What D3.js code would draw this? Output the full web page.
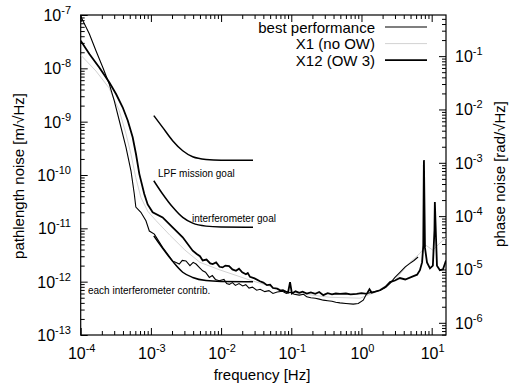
<!DOCTYPE html>
<html><head><meta charset="utf-8">
<script src="https://cdn.jsdelivr.net/npm/d3@7"></script>
<style>
body{margin:0;background:#fff}
svg{display:block}
text{font-family:"Liberation Sans",Arial,Helvetica,sans-serif;fill:#000}
</style>
</head><body>
<svg id="c" width="510" height="388"></svg>
<script>
// ---------- data (frequency in Hz, noise in m/sqrt(Hz)) ----------
const bestFreq = [1e-4,1.33e-4,1.65e-4,2.06e-4,2.55e-4,3.01e-4,3.55e-4,4.42e-4,5.2e-4,5.8e-4,6.1e-4,7.2e-4,8.5e-4,9.5e-4,1.12e-3,1.47e-3,2.04e-3,2.54e-3,2.8e-3,3.16e-3,3.6e-3,4.0e-3,4.4e-3,5.0e-3,5.47e-3,6.0e-3,6.8e-3,7.5e-3,8.3e-3,9.4e-3,1.1e-2,1.2e-2,1.31e-2,1.45e-2,1.6e-2,1.8e-2,2.03e-2,2.25e-2,2.5e-2,2.8e-2,3.21e-2,3.6e-2,4.2e-2,4.8e-2,5.48e-2,6.3e-2,7.5e-2,8.5e-2,9.6e-2,0.11,0.13,0.15,0.166,0.19,0.22,0.25,0.286,0.33,0.38,0.43,0.494,0.6,0.764,0.9,1.06,1.19,1.4,1.84,2.2,2.55,3.0,3.53,4.2,4.9,5.6,6.4];
const bestNoise = [9.5e-8,4.4e-8,2.14e-8,1.05e-8,5.1e-9,2.46e-9,1.04e-9,3.3e-10,1.2e-10,4.4e-11,2.5e-11,2.0e-11,1.39e-11,8.9e-12,7.8e-12,4.4e-12,2.45e-12,2.14e-12,2.5e-12,2.45e-12,2.0e-12,2.3e-12,2.14e-12,1.8e-12,1.6e-12,1.5e-12,1.2e-12,1.3e-12,1.1e-12,1.04e-12,1.1e-12,9.2e-13,8.9e-13,9.6e-13,8.5e-13,9.2e-13,8.3e-13,8.8e-13,7.6e-13,7.9e-13,6.9e-13,7.2e-13,6.5e-13,6.8e-13,6.0e-13,6.4e-13,6.6e-13,6.0e-13,6.3e-13,5.8e-13,5.6e-13,5.8e-13,5.2e-13,5.0e-13,4.9e-13,4.7e-13,4.5e-13,4.4e-13,4.3e-13,4.1e-13,4.0e-13,3.9e-13,3.8e-13,3.9e-13,4.5e-13,6.0e-13,6.3e-13,6.9e-13,7.8e-13,9.3e-13,1.2e-12,1.5e-12,1.9e-12,2.2e-12,2.5e-12,2.9e-12];

const x1Freq = [1e-4,1.65e-4,2.53e-4,3.55e-4,4.42e-4,5.2e-4,6.1e-4,7.2e-4,9.0e-4,1.18e-3,1.87e-3,3.06e-3,5.0e-3,9.6e-3,2.58e-2,9.6e-2,0.355,0.955,1.56,3.0,4.9,6.8,7.5,7.6,7.7,8.3,10.4,13.1,16];
const x1Noise = [1.78e-8,8.9e-9,4.3e-9,1.6e-9,5.9e-10,2.46e-10,8.9e-11,3.8e-11,2.1e-11,1.4e-11,7.4e-12,3.9e-12,2.3e-12,1.66e-12,1.07e-12,6.3e-13,5.1e-13,4.9e-13,6.3e-13,1.07e-12,2.3e-12,3.4e-12,4.0e-12,1.55e-10,4.5e-12,4.8e-12,3.9e-12,5.3e-12,6.6e-12];

const x12Freq = [1e-4,1.33e-4,1.84e-4,2.55e-4,3.19e-4,3.96e-4,4.68e-4,5.5e-4,6.14e-4,6.84e-4,8.05e-4,9.0e-4,1.06e-3,1.47e-3,2.04e-3,2.84e-3,3.94e-3,4.5e-3,5.0e-3,5.47e-3,6.2e-3,7.0e-3,7.6e-3,8.5e-3,9.5e-3,1.05e-2,1.15e-2,1.3e-2,1.45e-2,1.63e-2,1.8e-2,2.0e-2,2.26e-2,2.4e-2,2.58e-2,3.0e-2,3.58e-2,4.0e-2,4.5e-2,5.0e-2,5.48e-2,6.3e-2,7.0e-2,7.6e-2,8.3e-2,9.0e-2,9.6e-2,0.102,0.115,0.13,0.145,0.166,0.19,0.22,0.25,0.286,0.33,0.38,0.43,0.494,0.6,0.7,0.855,1.0,1.19,1.3,1.4,1.84,2.2,2.55,3.0,3.53,4.2,5.4,6.2,6.8,7.3,7.6,7.76,8.03,8.58,9.46,10.4,10.96,11.1,11.5,11.9,13.1,14.5,16.0];
const x12Noise = [3.3e-8,1.86e-8,1.04e-8,5.5e-9,3.3e-9,1.86e-9,1.05e-9,5.1e-10,2.45e-10,1.05e-10,4.4e-11,2.8e-11,2.0e-11,1.6e-11,1.04e-11,6.8e-12,3.8e-12,3.3e-12,3.0e-12,2.5e-12,2.6e-12,2.2e-12,2.14e-12,2.3e-12,1.9e-12,1.85e-12,2.0e-12,1.95e-12,1.7e-12,1.6e-12,1.75e-12,1.5e-12,1.38e-12,1.45e-12,1.23e-12,1.15e-12,1.02e-12,9.6e-13,8.6e-13,8.8e-13,7.6e-13,7.4e-13,6.8e-13,6.9e-13,6.5e-13,6.3e-13,9.8e-13,6.0e-13,6.6e-13,6.2e-13,6.5e-13,6.0e-13,6.3e-13,5.9e-13,6.4e-13,5.6e-13,6.1e-13,5.8e-13,6.0e-13,5.9e-13,6.0e-13,5.8e-13,5.9e-13,6.1e-13,5.9e-13,7.2e-13,6.2e-13,6.9e-13,8.0e-13,9.8e-13,1.05e-12,1.17e-12,1.1e-12,1.26e-12,1.35e-12,1.64e-12,2.3e-12,4.8e-12,1.9e-10,4.3e-12,2.3e-12,1.78e-12,2.0e-12,9.3e-12,3.1e-11,7.4e-12,2.0e-12,1.64e-12,1.7e-12,2.5e-12];

const goalFreq = [1.1e-3,1.47e-3,2.04e-3,2.84e-3,3.94e-3,6.1e-3,1e-2,2.26e-2,2.85e-2];
const lpfGoal  = [1.3e-9,7.8e-10,4.4e-10,2.85e-10,2.2e-10,1.96e-10,1.9e-10,1.9e-10,1.9e-10];
const ifoGoal  = [7.8e-11,4.4e-11,2.5e-11,1.6e-11,1.25e-11,1.1e-11,1.06e-11,1.05e-11,1.05e-11];
const eachGoal = [7.2e-12,4.2e-12,2.4e-12,1.5e-12,1.2e-12,1.05e-12,1.01e-12,1.0e-12,1.0e-12];

const xDecades = [-4,-3,-2,-1,0,1];
const yDecades = [-13,-12,-11,-10,-9,-8,-7];
const phaseDecades = [-6,-5,-4,-3,-2,-1];
const legendLabels = ["best performance","X1 (no OW)","X12 (OW 3)"];

// ---------- scales ----------
const svg = d3.select("#c");
const L=80.7, R=446, T=15, B=335;
const x = d3.scaleLog().domain([1e-4,16]).range([L,R]);
const y = d3.scaleLog().domain([1e-13,1e-7]).range([B,T]);
const phaseFactor = 2*Math.PI/1.064e-6;
const y2 = d3.scaleLog().domain([1e-13*phaseFactor,1e-7*phaseFactor]).range([B,T]);

function logTicks(scale){
  const [a,b]=scale.domain(); const out=[];
  for(let e=Math.floor(Math.log10(a))-1;e<=Math.ceil(Math.log10(b));e++){
    for(let k=1;k<=9;k++){const v=k*Math.pow(10,e); if(v>=a*0.999&&v<=b*1.001) out.push(v);}
  }
  return out;
}
const isMajor = v => Math.abs(Math.log10(v)-Math.round(Math.log10(v)))<1e-6;

function styleAxis(g, attr, sign){
  g.select(".domain").remove();
  g.selectAll(".tick line").attr("stroke","#000").attr("stroke-width",1)
    .attr(attr, d => sign*(isMajor(d)?7:4));
}
svg.append("g").attr("transform",`translate(0,${B})`)
  .call(d3.axisBottom(x).tickValues(logTicks(x)).tickFormat("").tickSizeOuter(0))
  .call(g=>styleAxis(g,"y2",-1));
svg.append("g").attr("transform",`translate(0,${T})`)
  .call(d3.axisTop(x).tickValues(logTicks(x)).tickFormat("").tickSizeOuter(0))
  .call(g=>styleAxis(g,"y2",1));
svg.append("g").attr("transform",`translate(${L},0)`)
  .call(d3.axisLeft(y).tickValues(logTicks(y)).tickFormat("").tickSizeOuter(0))
  .call(g=>styleAxis(g,"x2",1));
svg.append("g").attr("transform",`translate(${R},0)`)
  .call(d3.axisRight(y2).tickValues(logTicks(y2)).tickFormat("").tickSizeOuter(0))
  .call(g=>styleAxis(g,"x2",-1));

svg.append("rect").attr("x",L).attr("y",T).attr("width",R-L).attr("height",B-T)
  .attr("fill","none").attr("stroke","#000").attr("stroke-width",1.2);

function powLabel(px,py,exp,anchor){
  const t=svg.append("text").attr("x",px).attr("y",py).attr("text-anchor",anchor).style("font-size","16px");
  t.append("tspan").text("10");
  t.append("tspan").attr("dy",-7).style("font-size","11px").text(String(exp));
}
xDecades.forEach(e=>powLabel(x(Math.pow(10,e))+1,359,e,"middle"));
yDecades.forEach(e=>powLabel(71,y(Math.pow(10,e))+6,e,"end"));
phaseDecades.forEach(e=>powLabel(455,y2(Math.pow(10,e))+6,e,"start"));

// axis titles
svg.append("text").attr("x",262).attr("y",380).attr("text-anchor","middle").style("font-size","15px").text("frequency [Hz]");
svg.append("text").attr("transform","translate(24,176) rotate(-90)").attr("text-anchor","middle").style("font-size","15px").text("pathlength noise [m/\u221AHz]");
svg.append("text").attr("transform","translate(505,174) rotate(-90)").attr("text-anchor","middle").style("font-size","15px").text("phase noise [rad/\u221AHz]");

// ---------- lines ----------
const clipId="plotclip";
svg.append("clipPath").attr("id",clipId).append("rect").attr("x",L).attr("y",T).attr("width",R-L).attr("height",B-T);
const plot = svg.append("g").attr("clip-path",`url(#${clipId})`);
const line = d3.line().x(d=>x(d[0])).y(d=>y(d[1]));
const smooth = d3.line().x(d=>x(d[0])).y(d=>y(d[1])).curve(d3.curveMonotoneX);
const zip=(a,b)=>a.map((v,i)=>[v,b[i]]);

plot.append("path").datum(zip(x1Freq,x1Noise)).attr("d",line).attr("fill","none").attr("stroke","#d2d2d2").attr("stroke-width",1);
plot.append("path").datum(zip(bestFreq,bestNoise)).attr("d",line).attr("fill","none").attr("stroke","#000").attr("stroke-width",1.1);
plot.append("path").datum(zip(x12Freq,x12Noise)).attr("d",line).attr("fill","none").attr("stroke","#000").attr("stroke-width",1.8);
[lpfGoal,ifoGoal,eachGoal].forEach(g=>{
  plot.append("path").datum(zip(goalFreq,g)).attr("d",smooth).attr("fill","none").attr("stroke","#000").attr("stroke-width",1.5);
});

// annotations
svg.append("text").attr("x",158).attr("y",177).style("font-size","10px").text("LPF mission goal");
svg.append("text").attr("x",192).attr("y",222).style("font-size","10px").text("interferometer goal");
svg.append("text").attr("x",88).attr("y",294).style("font-size","10px").text("each interferometer contrib.");

// legend
const legStyles=[{c:"#000",w:1.1},{c:"#d2d2d2",w:1},{c:"#000",w:1.8}];
legendLabels.forEach((lab,i)=>{
  const cy=27+i*16.6;
  svg.append("text").attr("x",375).attr("y",cy+5.5).attr("text-anchor","end").style("font-size","15px").text(lab);
  svg.append("line").attr("x1",385).attr("x2",427).attr("y1",cy).attr("y2",cy).attr("stroke",legStyles[i].c).attr("stroke-width",legStyles[i].w);
});
</script>
</body></html>
